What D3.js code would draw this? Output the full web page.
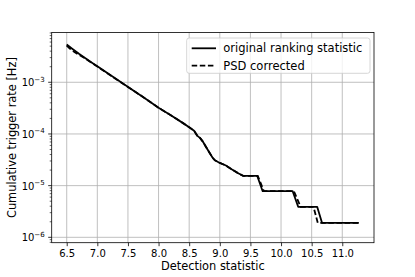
<!DOCTYPE html>
<html>
<head>
<meta charset="utf-8">
<script src="https://cdn.jsdelivr.net/npm/d3@7"></script>
<style>
  html, body { margin: 0; padding: 0; background: #fff; }
  svg { display: block; font-family: "DejaVu Sans", sans-serif; }
</style>
</head>
<body>
<div id="chart"></div>
<script>
// detection statistic vs cumulative rate
const statOrig = [6.50, 6.60, 6.70, 6.80, 6.90, 7.00, 7.20, 7.40, 7.60, 7.80, 8.00, 8.20, 8.40, 8.50, 8.58, 8.63, 8.68, 8.72, 8.80, 8.88, 8.92, 9.00, 9.10, 9.20, 9.30, 9.38, 9.61, 9.70, 10.19, 10.28, 10.59, 10.67, 11.27];
const rateOrig = [5.37e-3, 4.37e-3, 3.55e-3, 2.95e-3, 2.45e-3, 2.04e-3, 1.41e-3, 9.8e-4, 6.8e-4, 4.7e-4, 3.2e-4, 2.3e-4, 1.62e-4, 1.35e-4, 1.15e-4, 9.3e-5, 8.3e-5, 7.2e-5, 5.0e-5, 3.5e-5, 3.1e-5, 2.75e-5, 2.45e-5, 2.05e-5, 1.74e-5, 1.55e-5, 1.55e-5, 7.8e-6, 7.8e-6, 3.9e-6, 3.9e-6, 1.9e-6, 1.9e-6];

const statPsd = [6.50, 6.55, 6.62, 6.70, 6.80, 6.90, 7.00, 7.20, 7.40, 7.60, 7.80, 8.00, 8.20, 8.40, 8.50, 8.58, 8.63, 8.68, 8.72, 8.80, 8.88, 8.92, 9.00, 9.10, 9.20, 9.30, 9.38, 9.62, 9.72, 10.21, 10.32, 10.53, 10.60, 11.27];
const ratePsd = [5.1e-3, 4.5e-3, 3.9e-3, 3.4e-3, 2.9e-3, 2.42e-3, 2.02e-3, 1.40e-3, 9.7e-4, 6.8e-4, 4.7e-4, 3.2e-4, 2.3e-4, 1.62e-4, 1.35e-4, 1.15e-4, 9.3e-5, 8.3e-5, 7.2e-5, 5.0e-5, 3.5e-5, 3.1e-5, 2.75e-5, 2.45e-5, 2.05e-5, 1.74e-5, 1.55e-5, 1.55e-5, 7.8e-6, 7.8e-6, 3.9e-6, 3.9e-6, 1.9e-6, 1.9e-6];

const xTicks = [6.5, 7.0, 7.5, 8.0, 8.5, 9.0, 9.5, 10.0, 10.5, 11.0];
const yExps = [-3, -4, -5, -6];
const seriesNames = ["original ranking statistic", "PSD corrected"];

const width = 415;
const height = 277;
const marginLeft = 51.7;
const marginRight = 41;
const marginTop = 32.5;
const marginBottom = 34.3;

const x = d3.scaleLinear()
  .domain([6.255, 11.518])
  .range([marginLeft, width - marginRight]);

const y = d3.scaleLog()
  .domain([Math.pow(10, -6.104), Math.pow(10, -2.037)])
  .range([height - marginBottom, marginTop]);

const svg = d3.select("#chart").append("svg")
  .attr("width", width)
  .attr("height", height);

// grid
const grid = svg.append("g").attr("stroke", "#b0b0b0").attr("stroke-width", 0.8);
grid.selectAll(".gx").data(xTicks).join("line")
  .attr("x1", d => x(d)).attr("x2", d => x(d))
  .attr("y1", marginTop).attr("y2", height - marginBottom);
grid.selectAll(".gy").data(yExps).join("line")
  .attr("x1", marginLeft).attr("x2", width - marginRight)
  .attr("y1", d => y(Math.pow(10, d))).attr("y2", d => y(Math.pow(10, d)));

// lines
const line = d3.line().x(d => x(d[0])).y(d => y(d[1]));
svg.append("path")
  .attr("d", line(d3.zip(statOrig, rateOrig)))
  .attr("fill", "none").attr("stroke", "#000").attr("stroke-width", 1.8)
  .attr("stroke-linejoin", "round");
svg.append("path")
  .attr("d", line(d3.zip(statPsd, ratePsd)))
  .attr("fill", "none").attr("stroke", "#000").attr("stroke-width", 1.8)
  .attr("stroke-dasharray", "5.5,2.6");

// x axis
const xAxis = svg.append("g")
  .attr("transform", `translate(0,${height - marginBottom})`)
  .call(d3.axisBottom(x).tickValues(xTicks).tickFormat(d3.format(".1f")).tickSize(3.5).tickPadding(3.5));
xAxis.select(".domain").remove();
xAxis.selectAll("text").attr("font-size", 10).attr("font-family", "DejaVu Sans").attr("fill", "#000");
xAxis.selectAll("line").attr("stroke-width", 0.8);

// y axis, major + minor
const yAxis = svg.append("g").attr("transform", `translate(${marginLeft},0)`);
const minors = [];
yExps.concat([-2, -7]).forEach(e => {
  for (let k = 2; k <= 9; k++) {
    const v = k * Math.pow(10, e);
    if (v > y.domain()[0] && v < y.domain()[1]) minors.push(v);
  }
});
yAxis.selectAll(".minor").data(minors).join("line")
  .attr("x1", -2).attr("x2", 0)
  .attr("y1", d => y(d)).attr("y2", d => y(d))
  .attr("stroke", "#000").attr("stroke-width", 0.6);
yAxis.selectAll(".major").data(yExps).join("line")
  .attr("x1", -3.5).attr("x2", 0)
  .attr("y1", d => y(Math.pow(10, d))).attr("y2", d => y(Math.pow(10, d)))
  .attr("stroke", "#000").attr("stroke-width", 0.8);
const yl = yAxis.selectAll(".lab").data(yExps).join("text")
  .attr("x", -7)
  .attr("y", d => y(Math.pow(10, d)) + 4)
  .attr("text-anchor", "end")
  .attr("font-size", 10)
  .attr("fill", "#000");
yl.append("tspan").text("10");
yl.append("tspan").attr("dy", -4.5).attr("font-size", 7).text(d => "\u2212" + Math.abs(d));

// frame
svg.append("rect")
  .attr("x", marginLeft).attr("y", marginTop)
  .attr("width", width - marginRight - marginLeft)
  .attr("height", height - marginBottom - marginTop)
  .attr("fill", "none").attr("stroke", "#000").attr("stroke-width", 0.8);

// axis labels
svg.append("text")
  .attr("x", (marginLeft + width - marginRight) / 2)
  .attr("y", 270)
  .attr("text-anchor", "middle")
  .attr("font-size", 11.4)
  .text("Detection statistic");
svg.append("text")
  .attr("transform", `translate(16,${(marginTop + height - marginBottom) / 2}) rotate(-90)`)
  .attr("text-anchor", "middle")
  .attr("font-size", 11.4)
  .text("Cumulative trigger rate [Hz]");

// legend
const legend = svg.append("g");
legend.append("rect")
  .attr("x", 186.7).attr("y", 38)
  .attr("width", 183.3).attr("height", 35.3)
  .attr("rx", 2.5)
  .attr("fill", "#fff").attr("fill-opacity", 0.8)
  .attr("stroke", "#cccccc").attr("stroke-width", 0.8);
seriesNames.forEach((name, i) => {
  const ly = 48.3 + i * 17.4;
  legend.append("line")
    .attr("x1", 191.7).attr("x2", 216)
    .attr("y1", ly).attr("y2", ly)
    .attr("stroke", "#000").attr("stroke-width", 1.8)
    .attr("stroke-dasharray", i === 1 ? "5.5,2.6" : null);
  legend.append("text")
    .attr("x", 223.3).attr("y", ly + 4)
    .attr("font-size", 11.5)
    .text(name);
});
</script>
</body>
</html>
